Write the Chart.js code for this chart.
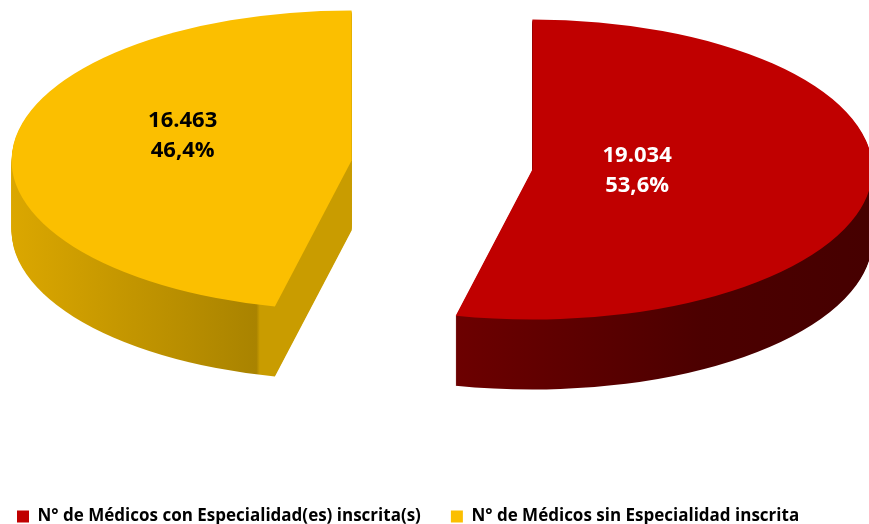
<!DOCTYPE html>
<html>
<head>
<meta charset="utf-8">
<script src="https://cdn.jsdelivr.net/npm/chart.js@4.4.0/dist/chart.umd.min.js"></script>
<style>
  html, body { margin: 0; background: #fff; }
  #wrap { width: 869px; height: 524px; position: relative; }
</style>
</head>
<body>
<div id="wrap"><canvas id="pieChart"></canvas></div>
<script>
const categories = ["N° de Médicos con Especialidad(es) inscrita(s)", "N° de Médicos sin Especialidad inscrita"];
const doctorCounts = [19034, 16463];
const doctorPercents = [53.6, 46.4];

const TOP_COLORS = ["#c00000", "#fbbf00"];
const LABEL_COLORS = ["#ffffff", "#000000"];
// side wall gradients, stops across the slice's width (0 = left rim, 1 = right rim)
const SIDE_STOPS = [
  [[0, "#7a0000"], [0.39, "#6c0000"], [0.75, "#4c0000"], [1, "#460000"]],
  [[0, "#dba700"], [0.36, "#a98300"], [0.365, "#c99c00"], [1, "#c99c00"]],
];
const LABEL_RADIUS = [0.31, 0.5];
const LABEL_SHIFT = [-4, -16];

const PIE_CX = 442;
const PIE_CY = 165;
const TILT = 0.441;
const DEPTH = 70;
const EXPLODE = 91;

function formatCount(n) {
  return String(n).replace(/\B(?=(\d{3})+(?!\d))/g, ".");
}
function formatPercent(p) {
  return p.toFixed(1).replace(".", ",") + "%";
}

function drawArcWith(ctx, arc, fill) {
  const el = Object.create(arc);
  el.options = Object.assign({}, arc.options, { backgroundColor: fill, borderWidth: 0, offset: 0 });
  el.draw(ctx);
}

function placeArc(ctx, arc, ox, oy, drop) {
  ctx.translate(PIE_CX, PIE_CY + drop);
  ctx.scale(1, TILT);
  ctx.translate(ox - arc.x, oy - arc.y);
}

const pie3d = {
  id: "pie3d",
  beforeDatasetsDraw(chart) {
    const ctx = chart.ctx;
    const arcs = chart.getDatasetMeta(0).data;
    const geo = arcs.map((arc) => {
      const mid = (arc.startAngle + arc.endAngle) / 2;
      return { mid, ox: Math.cos(mid) * EXPLODE, oy: Math.sin(mid) * EXPLODE };
    });

    // side walls: stacked copies of each slice, darker, dropping down
    arcs.forEach((arc, i) => {
      const { ox, oy } = geo[i];
      const R = arc.outerRadius;
      for (let d = DEPTH; d >= 1; d--) {
        ctx.save();
        placeArc(ctx, arc, ox, oy, d);
        const g = ctx.createLinearGradient(arc.x - R, 0, arc.x + R, 0);
        SIDE_STOPS[i].forEach(([s, c]) => g.addColorStop(s, c));
        drawArcWith(ctx, arc, g);
        ctx.restore();
      }
    });

    // top faces
    arcs.forEach((arc, i) => {
      const { ox, oy } = geo[i];
      ctx.save();
      placeArc(ctx, arc, ox, oy, 0);
      drawArcWith(ctx, arc, TOP_COLORS[i]);
      ctx.restore();
    });

    // value labels
    ctx.save();
    ctx.font = "bold 22px 'Open Sans'";
    ctx.textAlign = "center";
    ctx.textBaseline = "middle";
    arcs.forEach((arc, i) => {
      const { mid, ox, oy } = geo[i];
      const r = arc.outerRadius * LABEL_RADIUS[i];
      const x = PIE_CX + ox + Math.cos(mid) * r;
      const y = PIE_CY + (oy + Math.sin(mid) * r) * TILT + LABEL_SHIFT[i];
      ctx.fillStyle = LABEL_COLORS[i];
      ctx.fillText(formatCount(doctorCounts[i]), x, y - 15);
      ctx.fillText(formatPercent(doctorPercents[i]), x, y + 15);
    });
    ctx.restore();
    return false;
  },
};

new Chart(document.getElementById("pieChart"), {
  type: "pie",
  data: {
    labels: categories,
    datasets: [{
      data: doctorCounts,
      backgroundColor: TOP_COLORS,
      borderWidth: 0,
    }],
  },
  options: {
    responsive: true,
    maintainAspectRatio: false,
    animation: false,
    radius: 340,
    clip: false,
    layout: { padding: { bottom: -11, left: -13 } },
    plugins: {
      legend: {
        position: "bottom",
        align: "start",
        labels: {
          boxWidth: 12,
          boxHeight: 12,
          padding: 30,
          color: "#000",
          font: { family: "Open Sans", weight: "bold", size: 17 },
        },
      },
      tooltip: { enabled: false },
    },
  },
  plugins: [pie3d],
});
</script>
</body>
</html>
